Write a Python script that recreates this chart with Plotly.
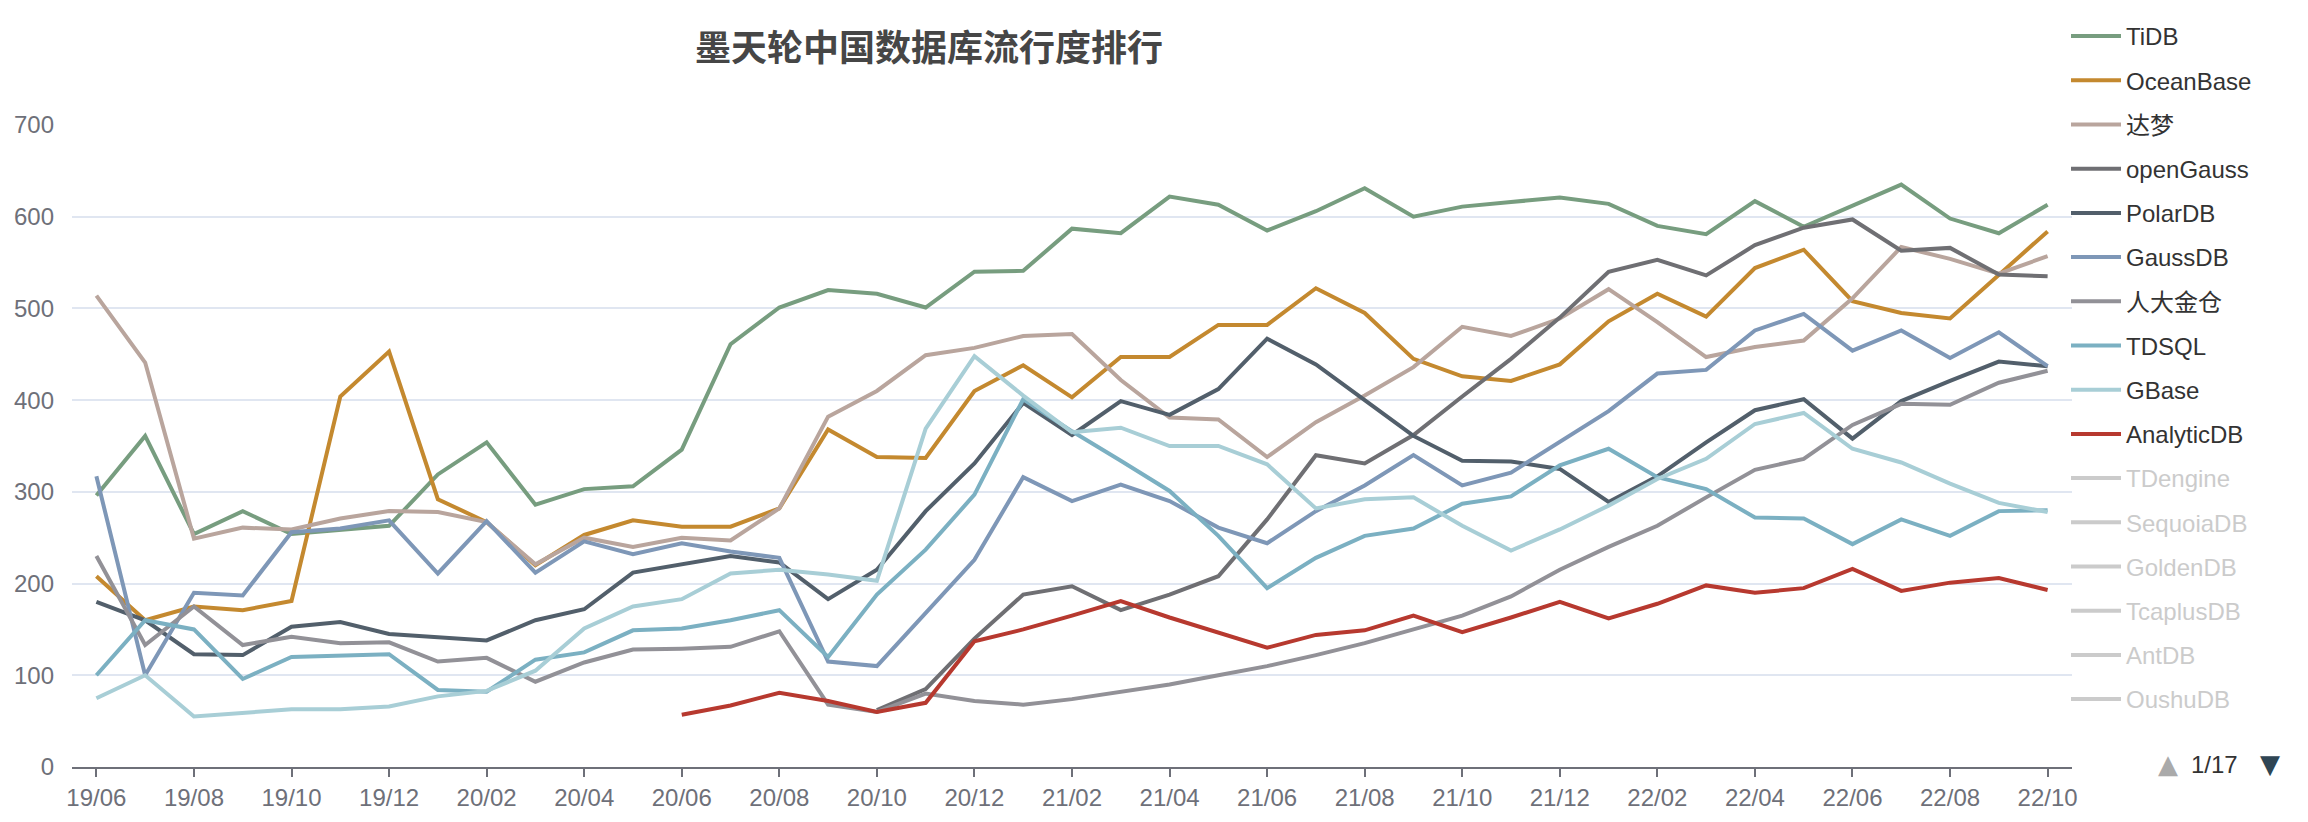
import plotly.graph_objects as go

months = ["19/06","19/07","19/08","19/09","19/10","19/11","19/12",
          "20/01","20/02","20/03","20/04","20/05","20/06","20/07","20/08","20/09","20/10","20/11","20/12",
          "21/01","21/02","21/03","21/04","21/05","21/06","21/07","21/08","21/09","21/10","21/11","21/12",
          "22/01","22/02","22/03","22/04","22/05","22/06","22/07","22/08","22/09","22/10"]

tidb = [296,361,254,279,254,258,263,319,354,286,303,306,346,461,501,520,516,501,540,541,587,582,622,613,585,606,631,600,611,616,621,614,590,581,617,589,612,635,598,582,613]
oceanbase = [208,160,175,171,181,404,453,292,267,220,253,269,262,262,282,368,338,337,410,438,403,447,447,482,482,522,495,445,426,421,439,486,516,491,544,564,508,495,489,537,584]
dameng = [514,441,249,261,259,271,279,278,267,221,250,240,250,247,282,382,410,449,457,470,472,422,381,379,338,376,405,436,480,470,489,521,485,447,458,465,511,567,554,538,557]
opengauss = [None]*16 + [62,85,140,188,197,171,188,208,270,340,331,362,404,445,490,540,553,536,569,588,597,563,566,537,535]
polardb = [180,160,123,122,153,158,145,142,138,160,172,212,221,230,223,183,215,279,331,397,362,399,384,412,467,439,400,361,334,333,325,289,317,354,389,401,358,399,421,442,437]
gaussdb = [317,100,190,187,256,260,269,211,268,212,246,232,244,235,228,115,110,168,226,316,290,308,290,261,244,279,307,340,307,321,354,388,429,433,476,494,454,476,446,474,437]
kingbase = [230,133,175,133,142,135,136,115,119,93,114,128,129,131,148,68,60,80,72,68,74,82,90,100,110,122,135,150,165,186,215,240,263,294,324,336,373,396,395,419,432]
tdsql = [100,160,150,96,120,122,123,84,82,117,125,149,151,160,171,120,188,237,297,401,366,334,301,252,195,228,252,260,287,295,329,347,316,303,272,271,243,270,252,279,280]
gbase = [75,100,55,59,63,63,66,77,83,105,151,175,183,211,215,210,203,369,448,405,365,370,350,350,330,282,292,294,263,236,259,285,314,336,374,386,347,332,309,288,278]
analyticdb = [None]*12 + [57,67,81,72,60,70,137,150,165,181,163,147,130,144,149,165,147,163,180,162,178,198,190,195,216,192,201,206,193]

shown_names = ["TiDB","OceanBase","达梦","openGauss","PolarDB","GaussDB","人大金仓","TDSQL","GBase","AnalyticDB"]
shown_values = [tidb, oceanbase, dameng, opengauss, polardb, gaussdb, kingbase, tdsql, gbase, analyticdb]
colors = ["#779d7f","#c4892f","#b9a59d","#6f6f73","#525f6b","#7e97b7","#929197","#7bb0c2","#a8ced6","#b7392f"]
hidden_names = ["TDengine","SequoiaDB","GoldenDB","TcaplusDB","AntDB","OushuDB"]

tick_labels = months[::2]
yticks = [0,100,200,300,400,500,600,700]

FONT = "Liberation Sans, Arial, Noto Sans CJK SC, sans-serif"
AXIS_C = "#6E7079"

# plot area in pixels
L, R, T, B = 64, 2064, 117, 759
W, H = 2308, 822

def px_x(px):
    return (px - L) / (R - L)

def px_y(py):
    return (B - py) / (B - T)

fig = go.Figure()
for i, (name, vals, c) in enumerate(zip(shown_names, shown_values, colors)):
    fig.add_trace(go.Scatter(x=months, y=vals, name=name, mode="lines",
                             line=dict(color=c, width=4), legendgroup="g%d" % i,
                             connectgaps=False))
for j, name in enumerate(hidden_names):
    fig.add_trace(go.Scatter(x=[None], y=[None], name="<span style='color:#999999'>%s</span>" % name,
                             mode="lines", line=dict(color="#999999", width=4),
                             visible="legendonly", legendgroup="h%d" % j))

fig.update_layout(
    width=W, height=H,
    margin=dict(l=L, r=W - R, t=T, b=H - B, autoexpand=False),
    plot_bgcolor="white", paper_bgcolor="white",
    font=dict(family=FONT, size=24, color="#333"),
    title=dict(text="<b>墨天轮中国数据库流行度排行</b>", xref="container", yref="container",
               x=921/2308, xanchor="center", y=1 - 40/822, yanchor="middle",
               font=dict(size=36, color="#464646", family=FONT)),
    showlegend=True,
    legend=dict(xref="container", yref="container", x=2058/2308, xanchor="left",
                y=1 - 6/822, yanchor="top", font=dict(size=24, color="#333", family=FONT),
                tracegroupgap=10, itemwidth=50, bgcolor="rgba(0,0,0,0)", maxheight=810,
                itemclick=False, itemdoubleclick=False),
    xaxis=dict(type="category", categoryorder="array", categoryarray=months,
               range=[-0.5, len(months) - 0.5], tickmode="array", tickvals=tick_labels,
               ticktext=tick_labels, showgrid=False, showline=True, linecolor=AXIS_C, linewidth=2,
               ticks="outside", ticklen=8, tickwidth=2, tickcolor=AXIS_C, automargin=False,
               tickfont=dict(size=24, color=AXIS_C), ticklabelstandoff=0, zeroline=False),
    yaxis=dict(range=[0, 700], tickmode="array", tickvals=yticks, showgrid=True,
               gridcolor="#E0E6F1", gridwidth=2, showline=False, zeroline=False, automargin=False,
               tickfont=dict(size=24, color=AXIS_C), ticklabelstandoff=17),
)

pager_y = px_y(756)
fig.add_annotation(xref="paper", yref="paper", x=px_x(2160), y=pager_y,
                   text="▲", showarrow=False, font=dict(size=26, color="#aaaaaa", family="DejaVu Sans"),
                   xanchor="center", yanchor="middle")
fig.add_annotation(xref="paper", yref="paper", x=px_x(2206), y=pager_y,
                   text="1/17", showarrow=False, font=dict(size=24, color="#333", family=FONT),
                   xanchor="center", yanchor="middle")
fig.add_annotation(xref="paper", yref="paper", x=px_x(2262), y=pager_y,
                   text="▼", showarrow=False, font=dict(size=26, color="#2f4554", family="DejaVu Sans"),
                   xanchor="center", yanchor="middle")

fig.write_html("out.html")
